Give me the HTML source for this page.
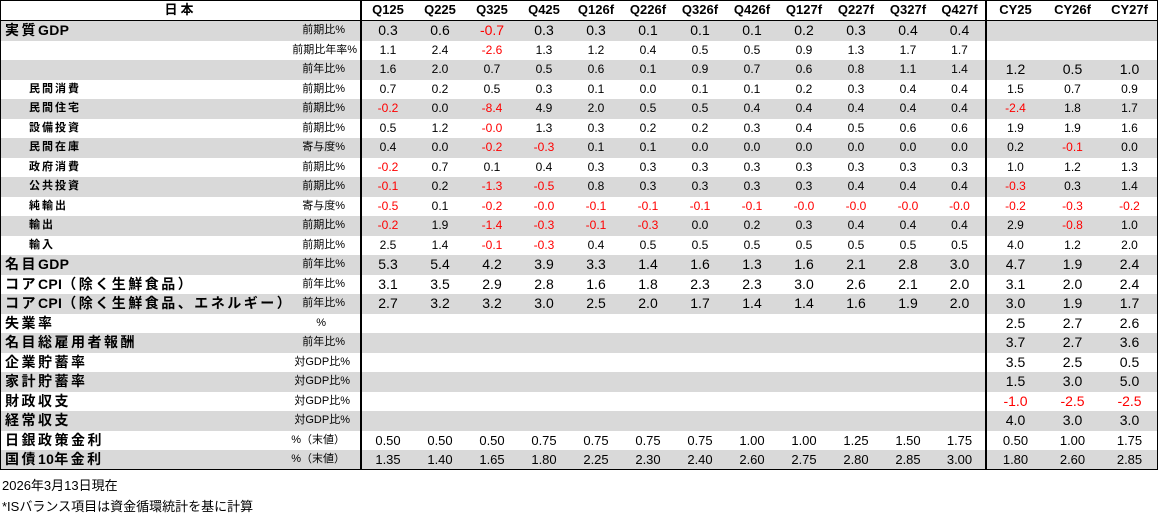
<!DOCTYPE html>
<html><head><meta charset="utf-8"><style>
body{margin:0;background:#fff;width:1158px;height:516px;overflow:hidden;font-family:"Liberation Sans","Noto Sans CJK JP",sans-serif;}
table{position:absolute;left:0;top:0;display:block;width:1158px;height:470px;box-sizing:border-box;border:1.5px solid #000;overflow:hidden;}
tbody{display:block;}
tr{display:flex;height:19.5px;}
td{display:block;box-sizing:border-box;flex:none;padding:0;height:100%;line-height:19.5px;text-align:center;font-size:12px;color:#000;white-space:nowrap;overflow:hidden;}
td:nth-child(n+2){width:52px;}
td:nth-child(n+14){width:57px;}
td:first-child{width:361px;}
tr.g td{background:#d9d9d9;}
tr.h{height:20px;}
tr.h td{font-weight:bold;font-size:13px;border-bottom:1.5px solid #000;background:#fff;line-height:18px;}
td.l{position:relative;text-align:left;border-right:2px solid #000;}
td.s{border-right:2px solid #000;width:53px!important;}
.n{position:absolute;left:4px;top:0;line-height:19.5px;font-size:14px;font-weight:bold;width:282px;overflow:hidden;letter-spacing:2.5px;}
.n i{font-style:normal;letter-spacing:0.3px;}
.sub{position:absolute;left:28px;top:0;line-height:19.5px;font-size:11px;font-weight:bold;letter-spacing:2px;}
.u{position:absolute;right:15px;top:0;line-height:19.5px;font-size:11px;}
.b td{font-size:14px;}
.m td{font-size:13px;}
.r{color:#f00;}
.big{font-size:14px!important;}
.foot{position:absolute;left:2px;font-size:13px;}
</style></head><body>
<table>
<tr class="h"><td class="l" style="text-align:center;letter-spacing:3px">日本</td><td>Q125</td><td>Q225</td><td>Q325</td><td>Q425</td><td>Q126f</td><td>Q226f</td><td>Q326f</td><td>Q426f</td><td>Q127f</td><td>Q227f</td><td>Q327f</td><td class="s">Q427f</td><td>CY25</td><td>CY26f</td><td>CY27f</td></tr>
<tr class="g b"><td class="l"><span class="n">実質<i>GDP</i></span><span class="u">前期比%</span></td><td>0.3</td><td>0.6</td><td class="r">-0.7</td><td>0.3</td><td>0.3</td><td>0.1</td><td>0.1</td><td>0.1</td><td>0.2</td><td>0.3</td><td>0.4</td><td class="s">0.4</td><td></td><td></td><td></td></tr>
<tr><td class="l"><span class="u" style="right:3px">前期比年率%</span></td><td>1.1</td><td>2.4</td><td class="r">-2.6</td><td>1.3</td><td>1.2</td><td>0.4</td><td>0.5</td><td>0.5</td><td>0.9</td><td>1.3</td><td>1.7</td><td class="s">1.7</td><td></td><td></td><td></td></tr>
<tr class="g"><td class="l"><span class="u">前年比%</span></td><td>1.6</td><td>2.0</td><td>0.7</td><td>0.5</td><td>0.6</td><td>0.1</td><td>0.9</td><td>0.7</td><td>0.6</td><td>0.8</td><td>1.1</td><td class="s">1.4</td><td class="big">1.2</td><td class="big">0.5</td><td class="big">1.0</td></tr>
<tr><td class="l"><span class="sub">民間消費</span><span class="u">前期比%</span></td><td>0.7</td><td>0.2</td><td>0.5</td><td>0.3</td><td>0.1</td><td>0.0</td><td>0.1</td><td>0.1</td><td>0.2</td><td>0.3</td><td>0.4</td><td class="s">0.4</td><td>1.5</td><td>0.7</td><td>0.9</td></tr>
<tr class="g"><td class="l"><span class="sub">民間住宅</span><span class="u">前期比%</span></td><td class="r">-0.2</td><td>0.0</td><td class="r">-8.4</td><td>4.9</td><td>2.0</td><td>0.5</td><td>0.5</td><td>0.4</td><td>0.4</td><td>0.4</td><td>0.4</td><td class="s">0.4</td><td class="r">-2.4</td><td>1.8</td><td>1.7</td></tr>
<tr><td class="l"><span class="sub">設備投資</span><span class="u">前期比%</span></td><td>0.5</td><td>1.2</td><td class="r">-0.0</td><td>1.3</td><td>0.3</td><td>0.2</td><td>0.2</td><td>0.3</td><td>0.4</td><td>0.5</td><td>0.6</td><td class="s">0.6</td><td>1.9</td><td>1.9</td><td>1.6</td></tr>
<tr class="g"><td class="l"><span class="sub">民間在庫</span><span class="u">寄与度%</span></td><td>0.4</td><td>0.0</td><td class="r">-0.2</td><td class="r">-0.3</td><td>0.1</td><td>0.1</td><td>0.0</td><td>0.0</td><td>0.0</td><td>0.0</td><td>0.0</td><td class="s">0.0</td><td>0.2</td><td class="r">-0.1</td><td>0.0</td></tr>
<tr><td class="l"><span class="sub">政府消費</span><span class="u">前期比%</span></td><td class="r">-0.2</td><td>0.7</td><td>0.1</td><td>0.4</td><td>0.3</td><td>0.3</td><td>0.3</td><td>0.3</td><td>0.3</td><td>0.3</td><td>0.3</td><td class="s">0.3</td><td>1.0</td><td>1.2</td><td>1.3</td></tr>
<tr class="g"><td class="l"><span class="sub">公共投資</span><span class="u">前期比%</span></td><td class="r">-0.1</td><td>0.2</td><td class="r">-1.3</td><td class="r">-0.5</td><td>0.8</td><td>0.3</td><td>0.3</td><td>0.3</td><td>0.3</td><td>0.4</td><td>0.4</td><td class="s">0.4</td><td class="r">-0.3</td><td>0.3</td><td>1.4</td></tr>
<tr><td class="l"><span class="sub">純輸出</span><span class="u">寄与度%</span></td><td class="r">-0.5</td><td>0.1</td><td class="r">-0.2</td><td class="r">-0.0</td><td class="r">-0.1</td><td class="r">-0.1</td><td class="r">-0.1</td><td class="r">-0.1</td><td class="r">-0.0</td><td class="r">-0.0</td><td class="r">-0.0</td><td class="s r">-0.0</td><td class="r">-0.2</td><td class="r">-0.3</td><td class="r">-0.2</td></tr>
<tr class="g"><td class="l"><span class="sub">輸出</span><span class="u">前期比%</span></td><td class="r">-0.2</td><td>1.9</td><td class="r">-1.4</td><td class="r">-0.3</td><td class="r">-0.1</td><td class="r">-0.3</td><td>0.0</td><td>0.2</td><td>0.3</td><td>0.4</td><td>0.4</td><td class="s">0.4</td><td>2.9</td><td class="r">-0.8</td><td>1.0</td></tr>
<tr><td class="l"><span class="sub">輸入</span><span class="u">前期比%</span></td><td>2.5</td><td>1.4</td><td class="r">-0.1</td><td class="r">-0.3</td><td>0.4</td><td>0.5</td><td>0.5</td><td>0.5</td><td>0.5</td><td>0.5</td><td>0.5</td><td class="s">0.5</td><td>4.0</td><td>1.2</td><td>2.0</td></tr>
<tr class="g b"><td class="l"><span class="n">名目<i>GDP</i></span><span class="u">前年比%</span></td><td>5.3</td><td>5.4</td><td>4.2</td><td>3.9</td><td>3.3</td><td>1.4</td><td>1.6</td><td>1.3</td><td>1.6</td><td>2.1</td><td>2.8</td><td class="s">3.0</td><td>4.7</td><td>1.9</td><td>2.4</td></tr>
<tr class="b"><td class="l"><span class="n">コア<i>CPI</i>（除く生鮮食品）</span><span class="u">前年比%</span></td><td>3.1</td><td>3.5</td><td>2.9</td><td>2.8</td><td>1.6</td><td>1.8</td><td>2.3</td><td>2.3</td><td>3.0</td><td>2.6</td><td>2.1</td><td class="s">2.0</td><td>3.1</td><td>2.0</td><td>2.4</td></tr>
<tr class="g b"><td class="l"><span class="n">コア<i>CPI</i>（除く生鮮食品、エネルギー）</span><span class="u">前年比%</span></td><td>2.7</td><td>3.2</td><td>3.2</td><td>3.0</td><td>2.5</td><td>2.0</td><td>1.7</td><td>1.4</td><td>1.4</td><td>1.6</td><td>1.9</td><td class="s">2.0</td><td>3.0</td><td>1.9</td><td>1.7</td></tr>
<tr class="b"><td class="l"><span class="n">失業率</span><span class="u" style="right:34px">%</span></td><td></td><td></td><td></td><td></td><td></td><td></td><td></td><td></td><td></td><td></td><td></td><td class="s"></td><td>2.5</td><td>2.7</td><td>2.6</td></tr>
<tr class="g b"><td class="l"><span class="n">名目総雇用者報酬</span><span class="u">前年比%</span></td><td></td><td></td><td></td><td></td><td></td><td></td><td></td><td></td><td></td><td></td><td></td><td class="s"></td><td>3.7</td><td>2.7</td><td>3.6</td></tr>
<tr class="b"><td class="l"><span class="n">企業貯蓄率</span><span class="u" style="right:10px">対GDP比%</span></td><td></td><td></td><td></td><td></td><td></td><td></td><td></td><td></td><td></td><td></td><td></td><td class="s"></td><td>3.5</td><td>2.5</td><td>0.5</td></tr>
<tr class="g b"><td class="l"><span class="n">家計貯蓄率</span><span class="u" style="right:10px">対GDP比%</span></td><td></td><td></td><td></td><td></td><td></td><td></td><td></td><td></td><td></td><td></td><td></td><td class="s"></td><td>1.5</td><td>3.0</td><td>5.0</td></tr>
<tr class="b"><td class="l"><span class="n">財政収支</span><span class="u" style="right:10px">対GDP比%</span></td><td></td><td></td><td></td><td></td><td></td><td></td><td></td><td></td><td></td><td></td><td></td><td class="s"></td><td class="r">-1.0</td><td class="r">-2.5</td><td class="r">-2.5</td></tr>
<tr class="g b"><td class="l"><span class="n">経常収支</span><span class="u" style="right:10px">対GDP比%</span></td><td></td><td></td><td></td><td></td><td></td><td></td><td></td><td></td><td></td><td></td><td></td><td class="s"></td><td>4.0</td><td>3.0</td><td>3.0</td></tr>
<tr class="m"><td class="l"><span class="n">日銀政策金利</span><span class="u">%（末値）</span></td><td>0.50</td><td>0.50</td><td>0.50</td><td>0.75</td><td>0.75</td><td>0.75</td><td>0.75</td><td>1.00</td><td>1.00</td><td>1.25</td><td>1.50</td><td class="s">1.75</td><td>0.50</td><td>1.00</td><td>1.75</td></tr>
<tr class="g m"><td class="l"><span class="n">国債<i>10</i>年金利</span><span class="u">%（末値）</span></td><td>1.35</td><td>1.40</td><td>1.65</td><td>1.80</td><td>2.25</td><td>2.30</td><td>2.40</td><td>2.60</td><td>2.75</td><td>2.80</td><td>2.85</td><td class="s">3.00</td><td>1.80</td><td>2.60</td><td>2.85</td></tr>
</table>
<div class="foot" style="top:475px">2026年3月13日現在</div>
<div class="foot" style="top:496px">*ISバランス項目は資金循環統計を基に計算</div>
</body></html>
